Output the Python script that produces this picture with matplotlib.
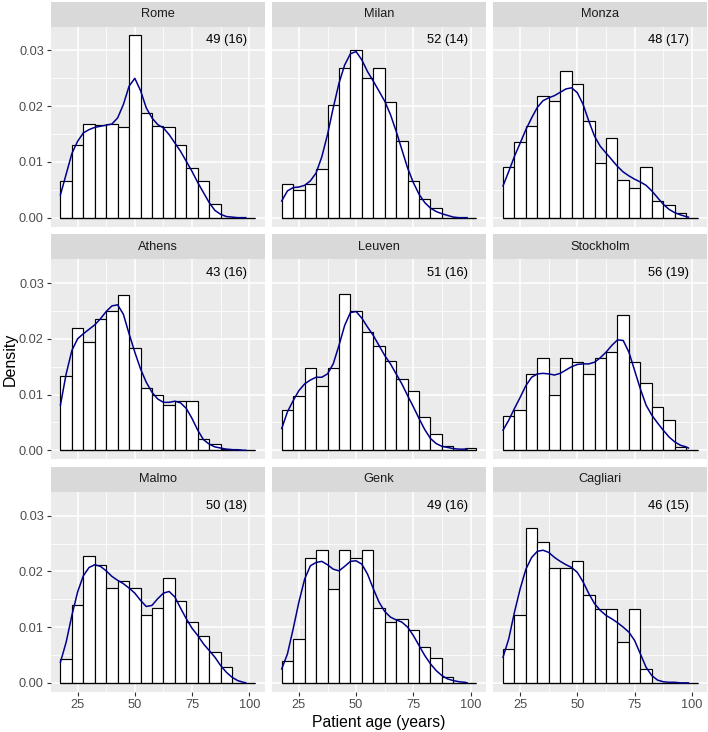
import matplotlib
matplotlib.use('Agg')
import matplotlib.pyplot as plt

plt.rcParams['font.family'] = ['Liberation Sans', 'DejaVu Sans']

# panels in facet order
cities = ['Rome', 'Milan', 'Monza',
          'Athens', 'Leuven', 'Stockholm',
          'Malmo', 'Genk', 'Cagliari']
# mean (sd) label in the corner of each panel
age_labels = ['49 (16)', '52 (14)', '48 (17)',
              '43 (16)', '51 (16)', '56 (19)',
              '50 (18)', '49 (16)', '46 (15)']

# histogram bins: 5-year wide, centred on 20, 25, ..., 100
bin_centers = [20, 25, 30, 35, 40, 45, 50, 55, 60, 65, 70, 75, 80, 85, 90, 95, 100]
bin_width = 5

hist_rome = [.0066, .0130, .0168, .0166, .0168, .0162, .0327, .0188, .0165, .0162, .0130, .0089, .0066, .0025, 0, 0, 0]
hist_milan = [.0061, .0049, .0061, .0088, .0202, .0268, .0300, .0250, .0268, .0208, .0137, .0066, .0033, .0017, 0, 0, 0]
hist_monza = [.0091, .0135, .0165, .0218, .0210, .0263, .0240, .0174, .0098, .0143, .0068, .0053, .0091, .0030, .0023, .0008, 0]
hist_athens = [.0134, .0219, .0194, .0236, .0250, .0279, .0184, .0112, .0100, .0081, .0088, .0088, .0021, .0011, .0003, 0, 0]
hist_leuven = [.0072, .0097, .0148, .0116, .0148, .0280, .0249, .0212, .0187, .0160, .0128, .0107, .0060, .0029, .0008, 0, .0004]
hist_stockholm = [.0061, .0072, .0137, .0165, .0100, .0165, .0159, .0137, .0165, .0176, .0242, .0159, .0121, .0077, .0055, .0005, 0]
hist_malmo = [.0043, .0140, .0227, .0212, .0170, .0182, .0170, .0122, .0134, .0188, .0146, .0109, .0084, .0056, .0028, 0, 0]
hist_genk = [.0040, .0079, .0224, .0238, .0169, .0238, .0224, .0238, .0134, .0109, .0114, .0094, .0065, .0044, .0010, 0, 0]
hist_cagliari = [.0061, .0122, .0278, .0252, .0206, .0206, .0218, .0158, .0133, .0133, .0073, .0133, .0024, 0, 0, 0, 0]

# kernel density
age_grid = [17.5, 20, 22.5, 25, 27.5, 30, 32.5, 35, 37.5, 40, 42.5, 45, 47.5, 50, 52.5,
            55, 57.5, 60, 62.5, 65, 67.5, 70, 72.5, 75, 77.5, 80, 82.5, 85, 87.5, 90,
            92.5, 95, 97.5, 98.5]

dens_rome = [.0041, .0078, .0115, .0137, .0152, .0158, .0162, .0164, .0166, .0168, .0179, .0203, .0236, .0250,
             .0228, .0197, .0179, .0167, .0161, .0149, .0134, .0119, .0101, .0083, .0063, .0045, .0027,
             .0013, .0006, .0002, .0001, 0, 0, 0]
dens_milan = [.0030, .0048, .0054, .0055, .0058, .0066, .0080, .0109, .0149, .0197, .0241, .0274, .0294, .0298,
              .0283, .0262, .0245, .0227, .0209, .0185, .0155, .0122, .0089, .0063, .0042, .0027, .0017,
              .0011, .0007, .0004, .0001, 0, 0, 0]
dens_monza = [.0057, .0083, .0110, .0134, .0158, .0179, .0198, .0210, .0215, .0219, .0225, .0231, .0233, .0224,
              .0203, .0173, .0146, .0128, .0116, .0104, .0092, .0082, .0075, .0069, .0064, .0058, .0048,
              .0036, .0024, .0015, .0009, .0005, .0002, .0001]
dens_athens = [.0081, .0137, .0179, .0200, .0209, .0217, .0225, .0236, .0249, .0259, .0261, .0244, .0209, .0176,
               .0146, .0122, .0104, .0092, .0086, .0086, .0088, .0085, .0075, .0057, .0036, .0019, .0011,
               .0006, .0004, .0002, .0001, .0001, 0, 0]
dens_leuven = [.0039, .0069, .0089, .0107, .0119, .0126, .0131, .0131, .0137, .0155, .0188, .0224, .0247, .0249,
               .0237, .0221, .0206, .0188, .0170, .0155, .0137, .0119, .0098, .0078, .0057, .0037, .0021,
               .0012, .0007, .0005, .0003, .0002, .0002, .0002]
dens_stockholm = [.0036, .0054, .0075, .0095, .0116, .0131, .0137, .0138, .0137, .0135, .0138, .0144, .0150, .0154,
                  .0155, .0155, .0158, .0166, .0176, .0188, .0198, .0197, .0176, .0143, .0110, .0081, .0063,
                  .0049, .0036, .0024, .0015, .0009, .0006, .0004]
dens_malmo = [.0037, .0073, .0121, .0163, .0192, .0207, .0212, .0209, .0201, .0191, .0184, .0178, .0170, .0161,
              .0148, .0137, .0139, .0151, .0161, .0164, .0154, .0134, .0115, .0098, .0085, .0070, .0058,
              .0046, .0031, .0019, .0010, .0004, .0001, 0]
dens_genk = [.0025, .0052, .0097, .0145, .0186, .0210, .0216, .0218, .0212, .0204, .0201, .0209, .0218, .0219,
             .0213, .0195, .0169, .0145, .0128, .0118, .0113, .0109, .0100, .0085, .0067, .0049, .0034,
             .0022, .0013, .0007, .0004, .0002, .0001, 0]
dens_cagliari = [.0046, .0079, .0127, .0169, .0204, .0225, .0236, .0238, .0234, .0225, .0218, .0212, .0207, .0198,
                 .0181, .0160, .0142, .0130, .0121, .0115, .0108, .0100, .0091, .0076, .0052, .0028, .0013,
                 .0005, .0002, .0001, .0001, 0, 0, 0]

hists = [hist_rome, hist_milan, hist_monza, hist_athens, hist_leuven, hist_stockholm,
         hist_malmo, hist_genk, hist_cagliari]
denss = [dens_rome, dens_milan, dens_monza, dens_athens, dens_leuven, dens_stockholm,
         dens_malmo, dens_genk, dens_cagliari]

x_ticks = [25, 50, 75, 100]
x_tick_labels = ['25', '50', '75', '100']
y_ticks = [0.0, 0.01, 0.02, 0.03]
y_tick_labels = ['0.00', '0.01', '0.02', '0.03']


def main():
    W, H = 708, 732
    fig = plt.figure(figsize=(W / 100, H / 100), dpi=100)

    # facet layout in pixels
    left, col_w, col_gap = 50.7, 214.0, 7.3
    top, strip_h, panel_h, row_gap = 1.5, 25.0, 200.3, 7.3

    for i, city in enumerate(cities):
        r, c = divmod(i, 3)
        x0 = left + c * (col_w + col_gap)
        strip_top = top + r * (strip_h + panel_h + row_gap)
        panel_top = strip_top + strip_h

        ax = fig.add_axes([x0 / W, 1 - (panel_top + panel_h) / H, col_w / W, panel_h / H])
        ax.set_facecolor('#EBEBEB')
        ax.set_axisbelow(True)
        for s in ax.spines.values():
            s.set_visible(False)

        ax.bar(bin_centers, hists[i], width=bin_width, color='white', edgecolor='black', linewidth=0.85)
        # empty bins still show as a flat outline along zero
        ax.hlines(0, bin_centers[0] - bin_width / 2, bin_centers[-1] + bin_width / 2,
                  color='black', linewidth=0.85, zorder=2)
        ax.plot(age_grid, denss[i], color='#00008B', linewidth=1.1, zorder=3,
                solid_joinstyle='round')
        ax.text(90, 0.0318, age_labels[i], ha='center', va='center', fontsize=9.3, color='black')

        ax.set_xlim(13.25, 106.75)
        ax.set_ylim(-0.00164, 0.0343)
        ax.set_xticks(x_ticks)
        ax.set_xticklabels(x_tick_labels)
        ax.set_xticks([37.5, 62.5, 87.5], minor=True)
        ax.set_yticks(y_ticks)
        ax.set_yticklabels(y_tick_labels)
        ax.set_yticks([0.005, 0.015, 0.025], minor=True)
        ax.grid(which='major', color='white', linewidth=1.1)
        ax.grid(which='minor', color='white', linewidth=0.55)
        ax.tick_params(which='minor', length=0)
        ax.tick_params(which='major', direction='out', length=2.75, width=0.8, color='#333333',
                       pad=2.2, labelsize=9.2, labelcolor='#4D4D4D')
        if r < 2:
            ax.tick_params(axis='x', length=0, labelbottom=False)
        if c > 0:
            ax.tick_params(axis='y', length=0, labelleft=False)

        sax = fig.add_axes([x0 / W, 1 - panel_top / H, col_w / W, strip_h / H])
        sax.set_facecolor('#D9D9D9')
        sax.set_xticks([])
        sax.set_yticks([])
        for s in sax.spines.values():
            s.set_visible(False)
        sax.text(0.5, 0.5, city, transform=sax.transAxes, ha='center', va='center',
                 fontsize=9.2, color='#1A1A1A')

    fig.text(10 / W, 1 - 359 / H, 'Density', rotation=90, ha='center', va='center', fontsize=11.5)
    fig.text(379 / W, 1 - 722 / H, 'Patient age (years)', ha='center', va='center', fontsize=11.3)

    fig.savefig('out.png', dpi=100)


if __name__ == '__main__':
    main()
